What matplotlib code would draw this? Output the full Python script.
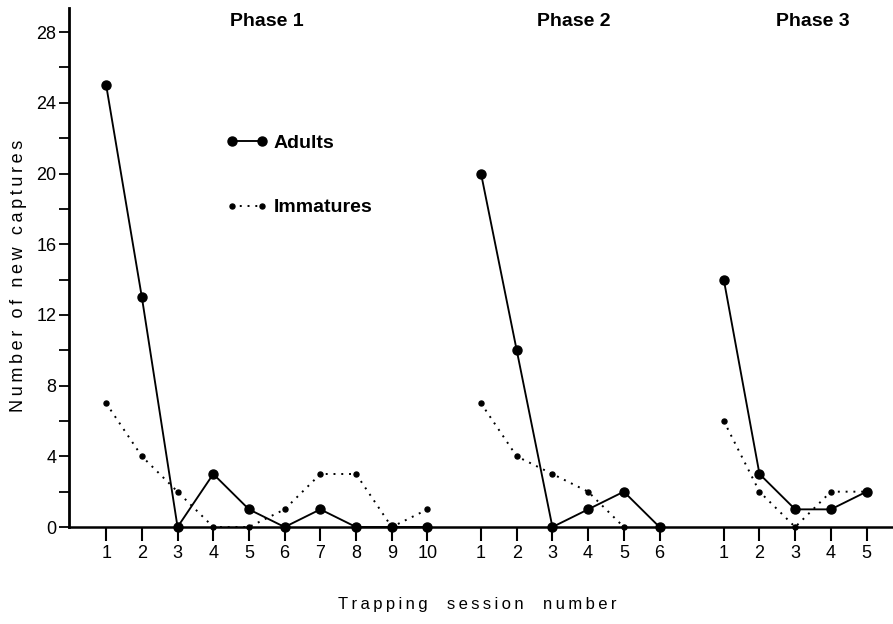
import matplotlib
matplotlib.use("Agg")
import matplotlib.pyplot as plt
import numpy as np

plt.rcParams["font.family"] = ["Liberation Sans", "DejaVu Sans"]

# new captures per trapping session
phase1_adults = [25, 13, 0, 3, 1, 0, 1, 0, 0, 0]
phase1_immatures = [7, 4, 2, 0, 0, 1, 3, 3, 0, 1]
phase2_adults = [20, 10, 0, 1, 2, 0]
phase2_immatures = [7, 4, 3, 2, 0]
phase3_adults = [14, 3, 1, 1, 2]
phase3_immatures = [6, 2, 0, 2, 2]

phases = [
    ("Phase 1", phase1_adults, phase1_immatures, 0.0, 0.0),
    ("Phase 2", phase2_adults, phase2_immatures, 10.5, 0.1),
    ("Phase 3", phase3_adults, phase3_immatures, 17.3, 0.5),
]
y_ticks = list(range(0, 29, 4))


def spaced(text, gap="\u2009"):
    # old typeset figure: letters are spread out a bit
    return gap.join(text)


fig = plt.figure(figsize=(8.93, 6.24), dpi=100)
ax = fig.add_axes([0.0773, 0.1554, 0.9227, 0.8317])

tick_pos, tick_lab = [], []
for i, (name, adults, immatures, offset, nudge) in enumerate(phases):
    xa = offset + np.arange(1, len(adults) + 1)
    xi = offset + np.arange(1, len(immatures) + 1)
    ax.plot(xi, immatures, linestyle=(0, (1, 3)), color="black", linewidth=1.4,
            marker="o", markersize=3.6, clip_on=False, zorder=3,
            label="Immatures" if i == 0 else None)
    ax.plot(xa, adults, linestyle="-", color="black", linewidth=1.35,
            marker="o", markersize=6.5, clip_on=False, zorder=4,
            label="Adults" if i == 0 else None)
    n = max(len(adults), len(immatures))
    tick_pos += list(offset + np.arange(1, n + 1))
    tick_lab += [str(k) for k in range(1, n + 1)]
    ax.text(offset + (n + 1) / 2 + nudge, 28.6, name, ha="center",
            va="center", fontsize=14, fontweight="bold")

ax.set_xlim(-0.04, 23.04)
ax.set_ylim(0, 29.36)
ax.set_xticks(tick_pos)
ax.set_xticklabels(tick_lab, fontsize=13)
ax.set_yticks(y_ticks)
ax.set_yticklabels([str(v) for v in y_ticks], fontsize=13)
ax.set_yticks(list(range(2, 29, 4)), minor=True)
ax.tick_params(axis="x", direction="out", length=10, width=1.5, pad=3)
ax.tick_params(axis="y", which="both", direction="out", length=7, width=1.3, pad=2)

for side in ("top", "right"):
    ax.spines[side].set_visible(False)
ax.spines["left"].set_linewidth(2.0)
ax.spines["bottom"].set_linewidth(1.8)

ax.set_ylabel(spaced("Number of new captures"), fontsize=13)
ax.yaxis.set_label_coords(-0.051, 0.484)
ax.set_xlabel(spaced("Trapping  session  number"), fontsize=12)
ax.xaxis.set_label_coords(0.495, -0.135)

handles, labels = ax.get_legend_handles_labels()
leg = ax.legend(handles[::-1], labels[::-1], frameon=False, numpoints=2,
                loc="upper left", bbox_to_anchor=(0.17, 0.79),
                handlelength=2.1, handletextpad=0.3, labelspacing=2.4,
                prop={"size": 14, "weight": "bold"})

fig.savefig("out.png", dpi=100)
